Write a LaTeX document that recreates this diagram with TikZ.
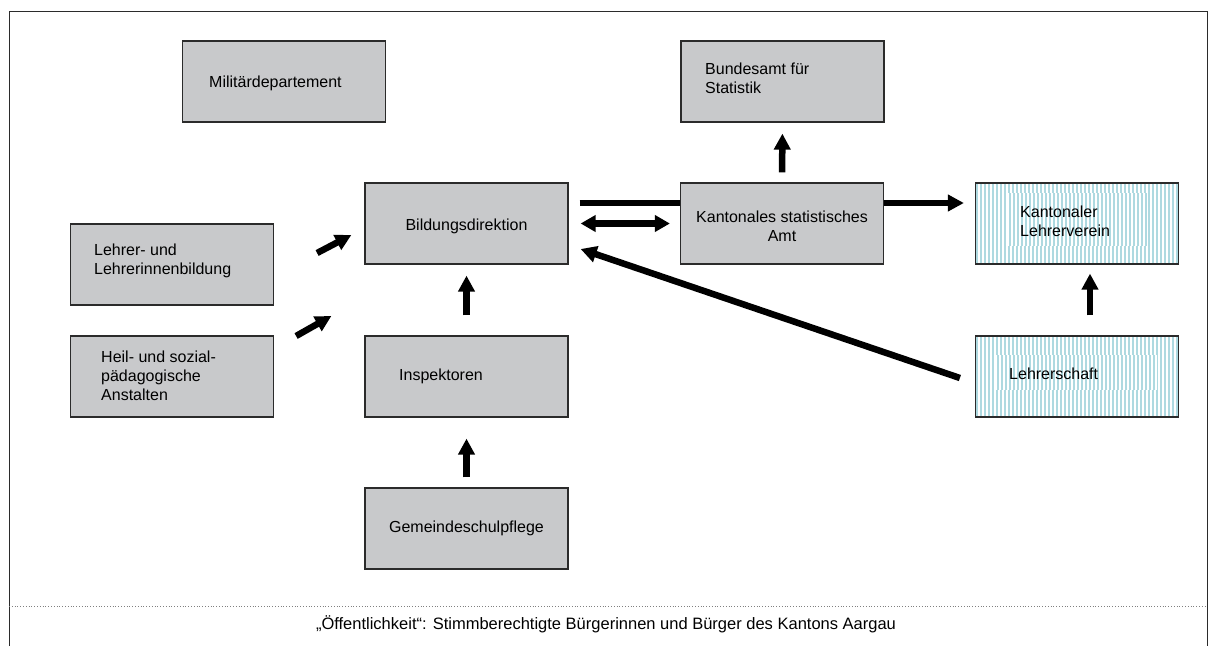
\documentclass[tikz,border=0pt]{standalone}
\usepackage{fontspec}
\setmainfont{Liberation Sans}
\usetikzlibrary{arrows.meta}
\definecolor{boxgray}{HTML}{C8C9CB}
\definecolor{boxline}{HTML}{2B2B2B}
\definecolor{stripeblue}{HTML}{AED9E0}
\begin{document}
\begin{tikzpicture}[x=1pt,y=-1pt,
  box/.style={draw=boxline, line width=1.2pt, fill=boxgray, minimum width=203pt, minimum height=81pt, inner sep=0pt},
  sbox/.style={draw=boxline, line width=1.2pt, fill=white, minimum width=203pt, minimum height=81pt, inner sep=0pt,
    path picture={\foreach \i in {0,...,51}{\fill[stripeblue] ([xshift=\i*4pt]path picture bounding box.south west) rectangle ++(2pt,81pt);}}},
  txt/.style={inner sep=0pt, align=left, font=\fontsize{16}{19}\selectfont},
  arr/.style={line width=6.5pt, draw=black, -{Triangle[length=16pt,width=16pt]}},
  darr/.style={line width=6.5pt, draw=black, {Triangle[length=15pt,width=16pt]}-{Triangle[length=15pt,width=16pt]}},
  plain/.style={line width=6.5pt, draw=black}
]
\useasboundingbox (0,0) rectangle (1211,646);
% frame
\draw[line width=1pt, draw=boxline] (9,646) -- (9,11) -- (1207,11) -- (1207,646);
\draw[line width=0.8pt, draw=gray, dotted] (9,606) -- (1207,606);

% boxes
\node[box] (mil) at (284,81.5) {};
\node[box] (bund) at (782.5,81.5) {};
\node[box] (bild) at (466.5,223.5) {};
\node[box] (kant) at (782,223.5) {};
\node[sbox] (verein) at (1077,223.5) {};
\node[box] (lehrer) at (172,264.5) {};
\node[box] (heil) at (172,376.5) {};
\node[box] (insp) at (466.5,376.5) {};
\node[sbox] (schaft) at (1077,376.5) {};
\node[box] (gem) at (466.5,528.5) {};

% offset stripe patches behind texts
\begin{scope}
  \clip (1007,193) rectangle (1148,246);
  \fill[white] (1007,193) rectangle (1148,246);
  \foreach \i in {0,...,36}{\fill[stripeblue] (1009+\i*4,193) rectangle ++(2,53);}
\end{scope}
\begin{scope}
  \clip (995,355) rectangle (1157,390);
  \fill[white] (995,355) rectangle (1157,390);
  \foreach \i in {0,...,41}{\fill[stripeblue] (997+\i*4,355) rectangle ++(2,35);}
\end{scope}

% texts
\node[txt, anchor=west] (tmil) at (209,83) {Militärdepartement};
\node[txt, anchor=west] (tbund) at (705,78) {Bundesamt für\\Statistik};
\node[txt] (tbild) at (466.5,226) {Bildungsdirektion};
\node[txt, align=center] (tkant) at (782,226) {Kantonales statistisches\\Amt};
\node[txt, anchor=west] (tverein) at (1020,221) {Kantonaler\\Lehrerverein};
\node[txt, anchor=west] (tlehrer) at (94,261) {Lehrer- und\\Lehrerinnenbildung};
\node[txt, anchor=west] (theil) at (101,376) {Heil- und sozial-\\pädagogische\\Anstalten};
\node[txt, anchor=west] (tinsp) at (399,376) {Inspektoren};
\node[txt, anchor=west] (tschaft) at (1009,374) {Lehrerschaft};
\node[txt] (tgem) at (466.5,528) {Gemeindeschulpflege};
\node[inner sep=0pt, font=\fontsize{16.5}{19}\selectfont] (pub) at (606,624) {„Öffentlichkeit“: Stimmberechtigte Bürgerinnen und Bürger des Kantons Aargau};

% connectors
\draw[arr, shorten <=20pt, shorten >=11pt] (insp.north) -- (bild.south);
\draw[arr, shorten <=10pt, shorten >=21pt] (gem.north) -- (insp.south);
\draw[arr, shorten <=10pt, shorten >=11pt] (kant.north) -- (bund.south);
\draw[arr, shorten <=20pt, shorten >=9pt] ([xshift=13pt]schaft.north) -- ([xshift=13pt]verein.south);
\draw[plain, shorten <=11pt] ([yshift=20.5pt]bild.east) -- ([yshift=20.5pt]kant.west);
\draw[arr, shorten >=11pt] ([yshift=20.5pt]kant.east) -- ([yshift=20.5pt]verein.west);
\draw[darr, shorten <=12pt, shorten >=10pt] (bild.east) -- (kant.west);
\draw[arr] ([xshift=-15pt,yshift=-1.5pt]schaft.west) -- ([xshift=12pt,yshift=-25.5pt]bild.east);
\draw[arr] ([xshift=43pt,yshift=11.5pt]lehrer.east) -- ([xshift=-13pt,yshift=-11.5pt]bild.west);
\draw[arr] ([xshift=22pt,yshift=40.5pt]heil.east) -- ([xshift=-33pt,yshift=60.5pt]insp.west);
\end{tikzpicture}
\end{document}
